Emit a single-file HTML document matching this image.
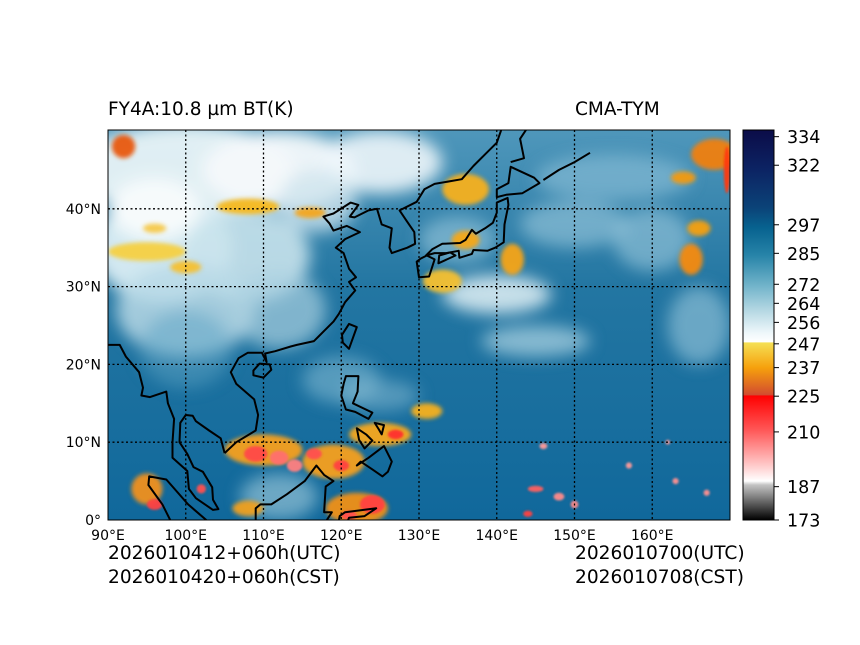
<!DOCTYPE html>
<html><head><meta charset="utf-8">
<style>
html,body{margin:0;padding:0;background:#fff;}
svg{display:block;font-family:"DejaVu Sans","Liberation Sans",sans-serif;}
</style></head>
<body>
<svg id="fig" width="860" height="645" viewBox="0 0 860 645">
<defs>
  <clipPath id="mapclip"><rect x="108" y="130" width="622" height="390"/></clipPath>
  <filter id="blur8" x="-50%" y="-50%" width="200%" height="200%"><feGaussianBlur stdDeviation="8"/></filter>
  <filter id="blur3" x="-50%" y="-50%" width="200%" height="200%"><feGaussianBlur stdDeviation="2"/></filter>
  <filter id="blur1" x="-50%" y="-50%" width="200%" height="200%"><feGaussianBlur stdDeviation="1"/></filter>
  <linearGradient id="cbgrad" x1="0" y1="0" x2="0" y2="1">
    <stop offset="0" stop-color="#0b0c48"/>
    <stop offset="0.1" stop-color="#0c2363"/>
    <stop offset="0.2" stop-color="#0b4378"/>
    <stop offset="0.25" stop-color="#07628f"/>
    <stop offset="0.32" stop-color="#2683a8"/>
    <stop offset="0.4" stop-color="#72b4ca"/>
    <stop offset="0.46" stop-color="#b2d6e2"/>
    <stop offset="0.52" stop-color="#eef7fa"/>
    <stop offset="0.544" stop-color="#ffffff"/>
    <stop offset="0.545" stop-color="#f5e055"/>
    <stop offset="0.61" stop-color="#f6a00c"/>
    <stop offset="0.68" stop-color="#d24a30"/>
    <stop offset="0.681" stop-color="#ff0000"/>
    <stop offset="0.77" stop-color="#ff5858"/>
    <stop offset="0.86" stop-color="#ffcaca"/>
    <stop offset="0.9" stop-color="#ffffff"/>
    <stop offset="0.91" stop-color="#c4c4c4"/>
    <stop offset="1" stop-color="#000000"/>
  </linearGradient>
  <linearGradient id="ocean" x1="0" y1="0" x2="0" y2="1">
    <stop offset="0" stop-color="#4f97bb"/>
    <stop offset="0.4" stop-color="#2376a2"/>
    <stop offset="1" stop-color="#10689b"/>
  </linearGradient>
</defs>
<g id="map" clip-path="url(#mapclip)">
  <rect x="108" y="130" width="622" height="390" fill="url(#ocean)"/>
  <g id="clouds-light" filter="url(#blur8)"></g>
  <g id="clouds-conv" filter="url(#blur3)"></g>
  <g id="clouds-cold" filter="url(#blur1)"></g>
  <g id="coast" fill="none" stroke="#000" stroke-width="2" stroke-linejoin="round"></g>
  <g id="grid" stroke="#000" stroke-width="1.3" stroke-dasharray="2,2.5"></g>
</g>
<rect x="108" y="130" width="622" height="390" fill="none" stroke="#000" stroke-width="1"/>
<g id="axes-labels" font-size="14" fill="#000"></g>
<rect x="743" y="130" width="31" height="390" fill="url(#cbgrad)" stroke="#000" stroke-width="1"/>
<g id="cbticks" font-size="17.5" fill="#000"></g>
<text x="108" y="115" font-size="18.5">FY4A:10.8 µm BT(K)</text>
<text x="575" y="115" font-size="18.5">CMA-TYM</text>
<text x="108" y="559" font-size="18.6">2026010412+060h(UTC)</text>
<text x="108" y="583" font-size="18.6">2026010420+060h(CST)</text>
<text x="575" y="559" font-size="18.6">2026010700(UTC)</text>
<text x="575" y="583" font-size="18.6">2026010708(CST)</text>
</svg>
<script>
const lonTicks = [90,100,110,120,130,140,150,160];
const latTicks = [0,10,20,30,40];
const cbTicks = [173,187,210,225,237,247,256,264,272,285,297,322,334];
const cbMin = 173, cbMax = 336.8;

const NS = "http://www.w3.org/2000/svg";
const X0=108,X1=730,Y0=520,Y1=130;
function px(lon){return X0+(lon-90)*(X1-X0)/80;}
function py(lat){return Y0-lat*7.78;}
function cbY(v){return 520-(v-cbMin)/(cbMax-cbMin)*390;}
function mk(tag,parent,attrs){const e=document.createElementNS(NS,tag);for(const k in attrs)e.setAttribute(k,attrs[k]);parent.appendChild(e);return e;}

const grid=document.getElementById('grid'), axl=document.getElementById('axes-labels');
lonTicks.forEach(l=>{
  if(l>90){const g=mk('line',grid,{x1:px(l),x2:px(l),y1:130,y2:520});
  
  }
  const t=mk('text',axl,{x:px(l),y:540,'text-anchor':'middle'});t.textContent=l+'°E';
  
  
});
latTicks.forEach(l=>{
  if(l>0){const g=mk('line',grid,{x1:108,x2:730,y1:py(l),y2:py(l)});
  
  }
  const t=mk('text',axl,{x:101,y:py(l)+5,'text-anchor':'end'});t.textContent=l===0?'0°':l+'°N';
  
  
});
const cbt=document.getElementById('cbticks');
cbTicks.forEach(v=>{
  const y=cbY(v);
  const ln=mk('line',cbt,{x1:774,x2:779,y1:y,y2:y,stroke:'#000','stroke-width':1});
  
  
  const t=mk('text',cbt,{x:787,y:y+6.5});t.textContent=v;
  
  
});

const lightClouds=[
 [100,45,14,6,'#e8f3f7',0.95],[112,45,10,5,'#f4f9fb',0.95],[125,46,8,4,'#eef6f9',0.9],
 [97,35,9,7,'#dbeef4',0.95],[108,34,8,6,'#c9e3ec',0.9],[100,27,9,6,'#b8d9e6',0.85],
 [112,27,6,5,'#a9d0e0',0.7],[96,40,6,4,'#f6fafb',1],[117,41,5,4,'#cfe5ee',0.8],
 [140,29,7,2.5,'#e3f1f6',0.85],[145,23,7,2,'#a8d0e0',0.75],[150,38,7,3,'#9ccadd',0.6],
 [160,36,5,4,'#9ccadd',0.6],[155,44,10,3,'#8fc2d8',0.6],[135,36,5,3,'#9ccadd',0.6],
 [120,18,5,3,'#7fb8d0',0.6],[125,16,5,2,'#8fc2d8',0.5],[112,3,5,3,'#a9d0e0',0.6],
 [100,22,6,5,'#5da3c4',0.5],[166,25,4,5,'#9ccadd',0.6]
];
const convClouds=[
 [108,40.3,4,1,'#f5b820'],[116,39.5,2,0.7,'#f3a51a'],[95,34.5,5,1.2,'#f5d040'],
 [100,32.5,2,0.8,'#f5c030'],[96,37.5,1.5,0.6,'#f5c84a'],[136,42.5,3,2,'#f6b020'],
 [136,36,1.8,1.2,'#f6a818'],[142,33.5,1.5,2,'#f5a418'],[133,30.7,2.5,1.5,'#f5c030'],
 [168,47,3,2,'#f08010'],[164,44,1.6,0.8,'#f39a10'],[165,33.5,1.5,2,'#f58a10'],
 [166,37.5,1.5,1,'#f5a010'],[92,48,1.5,1.5,'#e85a10'],[110,9,5,2,'#f5a020'],
 [119,7.5,4,2.2,'#f5a020'],[122,1.5,4,2,'#f09018'],[125,11,4,1.5,'#f5a820'],
 [131,14,2,1,'#f5b020'],[95,4,2,2,'#f09020'],[108,1.5,2,1,'#f0a020']
];
const coldClouds=[
 [109,8.5,1.5,1,'#ff4a4a'],[112,8,1.2,0.9,'#ff6f6f'],[116.5,8.5,1,0.7,'#ff5050'],
 [114,7,1,0.8,'#ff8080'],[120,7,1,0.7,'#ff4040'],[124,2,1.6,1.2,'#ff4040'],
 [121,0.6,1,0.6,'#ff5050'],[127,11,1,0.6,'#ff3030'],[145,4,1,0.4,'#ff6060'],
 [148,3,0.7,0.5,'#ff8a8a'],[150,2,0.5,0.5,'#ff8a8a'],[157,7,0.4,0.4,'#ff9a9a'],
 [163,5,0.4,0.4,'#ff9090'],[144,0.8,0.6,0.4,'#ff4040'],[96,2,1,0.7,'#ff4040'],
 [102,4,0.6,0.6,'#ff5050'],[146,9.5,0.5,0.4,'#ff9a9a'],[162,10,0.3,0.3,'#ff9a9a'],
 [167,3.5,0.4,0.4,'#ff9090'],[169.6,45,0.4,3,'#ff3a10']
];
function blobs(id,arr,op){
  const g=document.getElementById(id);
  arr.forEach((b,i)=>{
    const e=mk('ellipse',g,{cx:px(b[0]),cy:py(b[1]),rx:b[2]*7.775,ry:b[3]*7.78,fill:b[4],opacity:b[5]!==undefined?b[5]:(op||1)});
    
    
  });
}
blobs('clouds-light',lightClouds);
blobs('clouds-conv',convClouds,0.95);
blobs('clouds-cold',coldClouds,0.95);

const coastLines=[
 {n:'coast-asia-east',c:false,p:[[105,8.6],[106.5,10],[109,11.5],[109.3,13.5],[108.8,15.5],[106.5,17.5],[105.8,19],[106.8,20.8],[108,21.5],[109.8,21.5],[110.4,20.3],[110.2,21.4],[111.5,21.7],[113.5,22.3],[114.3,22.5],[116.5,23],[117.8,24.3],[119,25.5],[119.7,26.5],[120.5,28],[121.8,29.5],[121,30.6],[121.9,31.2],[121,32.3],[120.3,34.3],[119.3,35],[120.5,36.1],[122.4,37],[120.7,37.8],[119,37.2],[118.5,38.1],[117.7,39],[119,39.4],[121.2,40.8],[122.2,40.5],[121.1,39],[121.7,38.9],[123.5,39.8],[124.6,40],[125.2,38],[126.5,37.5],[126.2,35],[126.5,34.3],[128.5,35],[129.5,35.5],[129.4,37],[128.3,38.6],[127.5,39.8],[129.7,40.9],[130.7,42.5],[132,43.2],[135.5,43.8],[137,45.5],[138.5,47],[140,48.5],[140.7,50.5]]},
 {n:'coast-hainan',c:true,p:[[108.7,19.2],[109.5,20.1],[110.8,20],[111,19.3],[110,18.3],[108.7,18.6]]},
 {n:'coast-taiwan',c:true,p:[[121,25.2],[122,24.8],[121,22],[120.2,22.8],[120.1,23.8]]},
 {n:'coast-kyushu',c:true,p:[[130,31.2],[131.3,31.3],[132,33.5],[131,34],[130.2,33.6],[129.7,33.2]]},
 {n:'coast-honshu',c:true,p:[[130.9,34],[132,34.3],[133.5,34.3],[135.1,34.6],[135.2,33.7],[136.8,34.2],[137,34.7],[138.8,34.6],[139.8,35],[140.9,35.7],[141,38],[141.5,40.5],[141.4,41.4],[140,40.8],[140,39.5],[139.5,38.2],[138.5,37.5],[137.3,36.8],[136.8,37.3],[136,36],[135.3,35.6],[133,35.5],[131.7,34.8]]},
 {n:'coast-shikoku',c:true,p:[[132.5,33],[134.7,34],[134,34.4],[132.6,34]]},
 {n:'coast-hokkaido',c:true,p:[[140,41.5],[141.2,41.8],[143.3,42],[145.5,43.3],[144.8,44],[141.8,45.4],[141.5,43.3],[140,42.5]]},
 {n:'coast-sakhalin',c:false,p:[[141.8,46],[143.5,46.5],[143,49],[144,50.5]]},
 {n:'coast-kurils',c:false,p:[[146,43.7],[148,45],[150,46],[152,47.2]]},
 {n:'coast-luzon',c:true,p:[[120.6,18.5],[122.2,18.5],[122.1,16.5],[121.5,15],[124,13.8],[123.5,13],[121.8,13.9],[120.6,14.2],[120,16],[120.3,17.5]]},
 {n:'coast-samar',c:true,p:[[124.3,12.5],[125.5,12.2],[125.2,11],[124.8,11.7]]},
 {n:'coast-visayas',c:true,p:[[122,11.8],[123.2,11],[124,10.2],[123,9.2],[122.3,10.3]]},
 {n:'coast-mindanao',c:true,p:[[122,7],[123.5,8],[125.5,9.5],[126.5,7.5],[126,6.2],[125.3,5.6],[124,6.5],[122.5,7.5]]},
 {n:'coast-borneo',c:true,p:[[109,1.5],[109.6,2],[111,2],[113,3.3],[115.3,5],[116.8,7],[117.8,5.8],[119,5],[118,4.3],[117.8,1],[118.8,1],[117.5,-1],[109.5,-1],[109,0]]},
 {n:'coast-indochina',c:false,p:[[90,22.5],[91.5,22.5],[92.3,21],[94,19],[94.5,17],[94.3,16],[95.4,15.8],[97.5,16.5],[97.7,15],[98.5,13],[98.3,10],[98.3,8],[100.2,6.3],[100.4,4],[101.3,2.8],[103.5,1.3],[104.2,1.4],[103.5,2.6],[103.4,4.2],[102.2,6.2],[101,6.8],[100.2,8.5],[99.2,10],[99.3,12.5],[100,13.5],[100.9,13.4],[101.3,12.7],[103,11.5],[104.5,10.5],[105,8.6]]},
 {n:'coast-sumatra',c:true,p:[[95.3,5.6],[97.5,5.2],[100.3,2],[103.8,-1],[98.5,-1],[97,2],[95.2,4.5]]},
 {n:'coast-sulawesi',c:true,p:[[119.5,-1],[119.8,0.5],[120.5,1],[124.5,1.5],[123,0.5],[121,0.3],[120.5,-1]]}
];
const coast=document.getElementById('coast');
coastLines.forEach(cl=>{
  const d=cl.p.map((q,i)=>(i?'L':'M')+px(q[0]).toFixed(1)+' '+py(q[1]).toFixed(1)).join(' ')+(cl.c?' Z':'');
  const e=mk('path',coast,{d:d});
  
  
});
</script>
</body></html>
